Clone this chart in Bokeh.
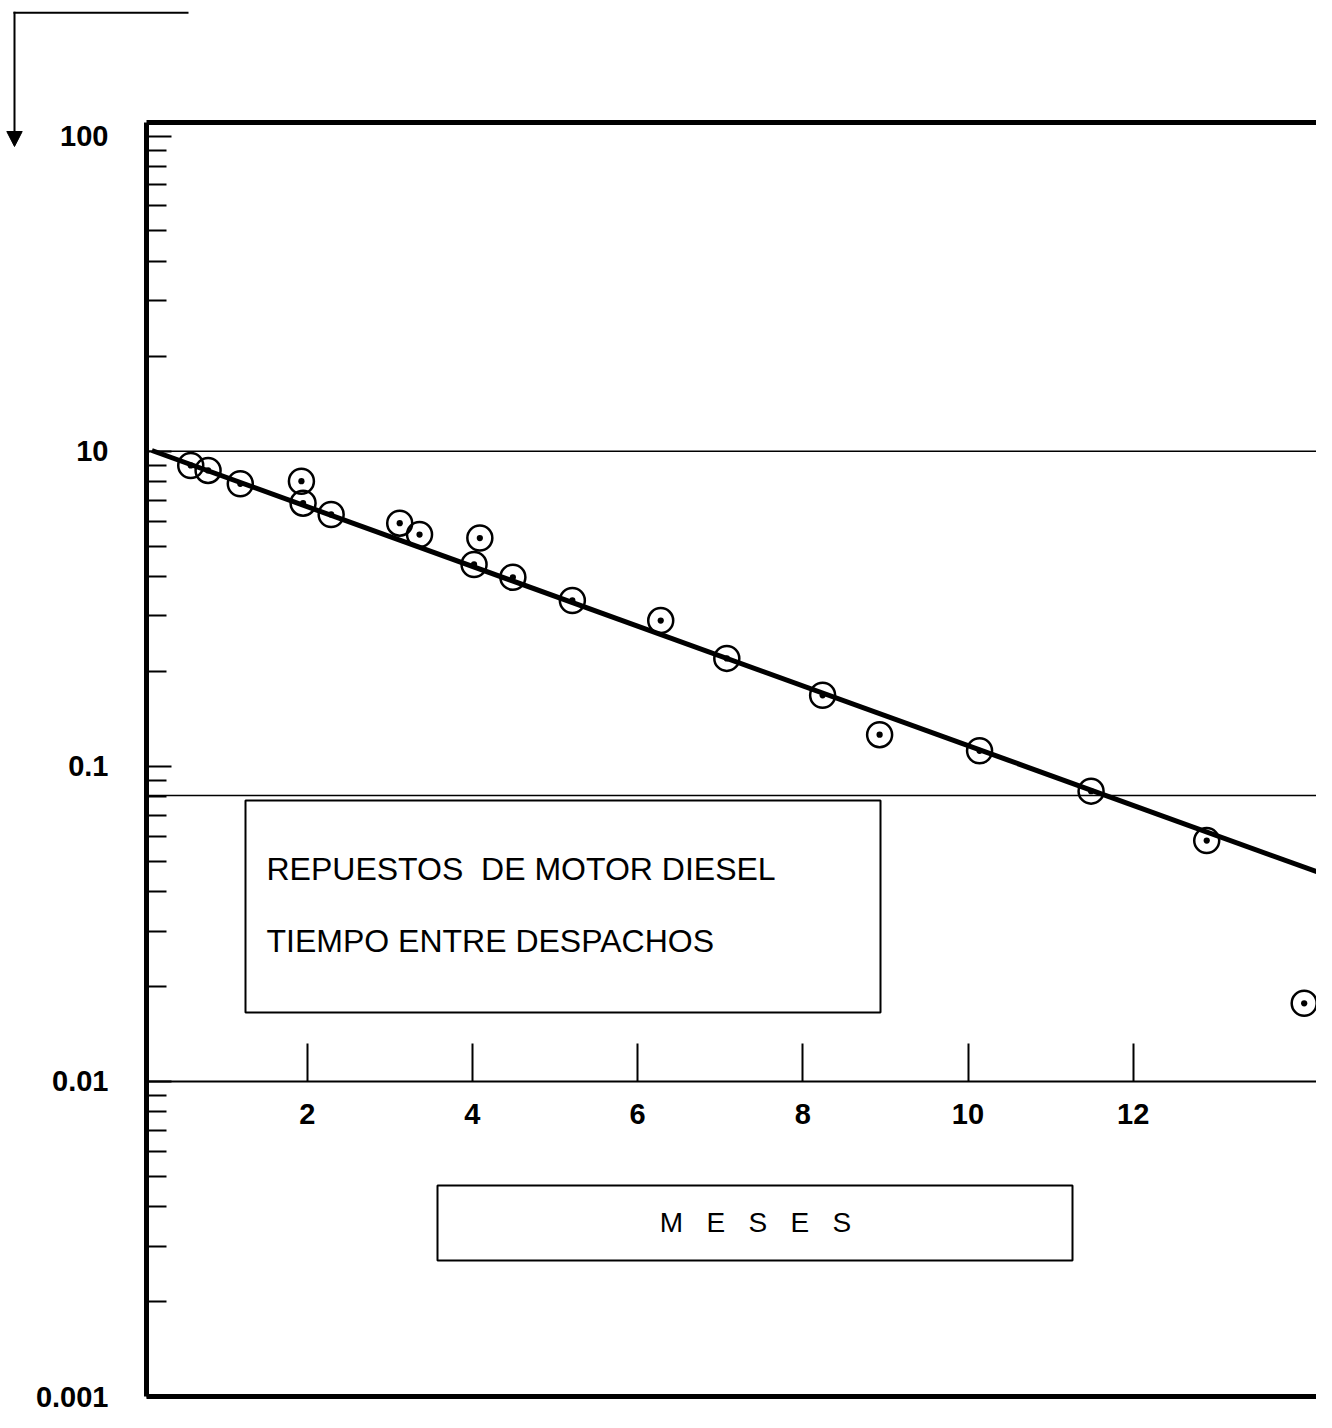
from bokeh.plotting import figure
from bokeh.models import (Range1d, FixedTicker, LinearAxis, LogAxis, BoxAnnotation, Label,
                          PolyAnnotation, ColumnDataSource)
from bokeh.embed import file_html
from bokeh.resources import INLINE

# ---------------- data ----------------
months = [0.59, 0.80, 1.19, 1.93, 1.95, 2.29, 3.12, 3.36, 4.09, 4.02,
          4.49, 5.21, 6.28, 7.08, 8.24, 8.93, 10.14, 11.49, 12.89, 14.07]
values = [9.01, 8.69, 7.88, 8.03, 6.84, 6.30, 5.91, 5.44, 5.30, 4.37,
          3.98, 3.36, 2.90, 2.20, 1.68, 1.26, 1.12, 0.834, 0.581, 0.177]
fit_months = [0.12, 14.29]
fit_values = [10.05, 0.456]
ref_levels = [10, 0.808]
axis_level = 0.1
x_ticks = [2, 4, 6, 8, 10, 12]
y_ticks = [100, 10, 1, 0.1, 0.01]
y_tick_labels = ["100", "10", "0.1", "0.01", "0.001"]
legend_lines = ["REPUESTOS \u00a0DE MOTOR DIESEL", "TIEMPO ENTRE DESPACHOS"]
x_title = "M\u00a0\u00a0\u00a0E\u00a0\u00a0\u00a0S\u00a0\u00a0\u00a0E\u00a0\u00a0\u00a0S"

FONT = "Liberation Sans"

# chart box (in data units): left edge, top and bottom of the value scale
X0 = 0.05
Y_TOP, Y_BOT = 110.4, 0.00999
X_START, X_END = -1.7131, 14.2191
W, H = 1316, 1412

p = figure(width=W, height=H, output_backend="svg", toolbar_location=None,
           y_axis_type="log", x_axis_location=None, y_axis_location=None,
           x_range=Range1d(X_START, X_END), y_range=Range1d(0.0088966, 269.35),
           min_border_left=0, min_border_top=0, min_border_bottom=0,
           min_border_right=0)
p.grid.visible = False
p.outline_line_color = None
p.background_fill_color = "white"
p.border_fill_color = "white"

minor = [m * 10.0 ** e for e in range(-2, 2) for m in range(2, 10)]
NOTICK = dict(major_tick_line_color=None, minor_tick_line_color=None,
              major_tick_in=0, major_tick_out=0, minor_tick_in=0, minor_tick_out=0)

# ---- value axis: labels (placed left of the chart box) ----
y_lab = LogAxis(fixed_location=-1.3257, bounds=(Y_BOT, Y_TOP),
                ticker=FixedTicker(ticks=y_ticks),
                major_label_overrides=dict(zip(y_ticks, y_tick_labels)),
                axis_line_color=None,
                major_label_text_font=FONT, major_label_text_font_style="bold",
                major_label_text_font_size="29px", major_label_text_color="black",
                major_label_standoff=-76, **NOTICK)
p.add_layout(y_lab, "left")

# ---- value axis: left edge of the chart box with inward ticks (no labels) ----
y_rule = LogAxis(fixed_location=X0, bounds=(Y_BOT, Y_TOP),
                 ticker=FixedTicker(ticks=y_ticks, minor_ticks=minor),
                 major_label_overrides={t: "" for t in y_ticks},
                 axis_line_width=5, axis_line_color="black",
                 major_tick_in=25, major_tick_out=0, major_tick_line_width=2,
                 major_tick_line_color="black",
                 minor_tick_in=20, minor_tick_out=0, minor_tick_line_width=2,
                 minor_tick_line_color="black",
                 major_label_text_font_size="10px", major_label_standoff=-20)
p.add_layout(y_rule, "left")


def edge_axis(loc, lw):
    return LinearAxis(fixed_location=loc, bounds=(X0, 20), ticker=FixedTicker(ticks=[]),
                      axis_line_width=lw, axis_line_color="black",
                      major_label_text_font_size="10px", major_label_standoff=0, **NOTICK)


p.add_layout(edge_axis(Y_TOP, 5), "above")   # top edge
p.add_layout(edge_axis(Y_BOT, 5), "below")   # bottom edge

# ---- month axis across the plot: rule, upward ticks, labels below the rule ----
x_axis = LinearAxis(fixed_location=axis_level, bounds=(X0, 20),
                    ticker=FixedTicker(ticks=x_ticks),
                    axis_line_width=2, axis_line_color="black",
                    major_tick_in=0, major_tick_out=38, major_tick_line_width=2,
                    major_tick_line_color="black", minor_tick_line_color=None,
                    minor_tick_in=0, minor_tick_out=0,
                    major_label_text_font=FONT, major_label_text_font_style="bold",
                    major_label_text_font_size="29px", major_label_text_color="black",
                    major_label_standoff=-81)
p.add_layout(x_axis, "above")

# ---- reference lines ----
p.segment(x0=[X0] * len(ref_levels), x1=[X_END] * len(ref_levels),
          y0=ref_levels, y1=ref_levels, line_width=1.5, line_color="black")

# ---- data ----
src = ColumnDataSource(dict(x=months, y=values))
p.scatter("x", "y", source=src, marker="circle_dot", size=25, line_width=2.5,
          line_color="black", fill_color=None)
p.line(fit_months, fit_values, line_width=5, line_color="black")


# ---- boxes / strokes in screen units (frame = whole canvas, y measured upward) ----
def sbox(l, r, t, b, fill=False, lw=2):
    return BoxAnnotation(left=l, right=r, top=t, bottom=b,
                         left_units="screen", right_units="screen",
                         top_units="screen", bottom_units="screen",
                         fill_color="black" if fill else None,
                         fill_alpha=1.0 if fill else 0.0,
                         line_color=None if fill else "black", line_alpha=1.0,
                         line_width=lw)


p.add_layout(sbox(245, 880, H - 800, H - 1012))
p.add_layout(sbox(437, 1072, H - 1185, H - 1260))
for txt, yy in zip(legend_lines, [868, 940]):
    p.add_layout(Label(x=266, y=H - yy, x_units="screen", y_units="screen", text=txt,
                       text_font=FONT, text_font_size="32px", text_color="black",
                       text_baseline="middle", text_align="left"))
p.add_layout(Label(x=755, y=H - 1222, x_units="screen", y_units="screen", text=x_title,
                   text_font=FONT, text_font_size="28px", text_color="black",
                   text_baseline="middle", text_align="center"))

# ---- corner arrow at the top-left ----
p.add_layout(sbox(13, 188, H - 11.3, H - 13.3, fill=True))   # horizontal stroke
p.add_layout(sbox(13, 15, H - 11.3, H - 134, fill=True))     # vertical stroke
p.add_layout(PolyAnnotation(xs=[6.3, 21.7, 14], ys=[H - 131, H - 131, H - 146],
                            xs_units="screen", ys_units="screen",
                            fill_color="black", fill_alpha=1.0,
                            line_color="black", line_alpha=1.0, line_width=1))

open("out.html", "w").write(file_html(p, INLINE))
